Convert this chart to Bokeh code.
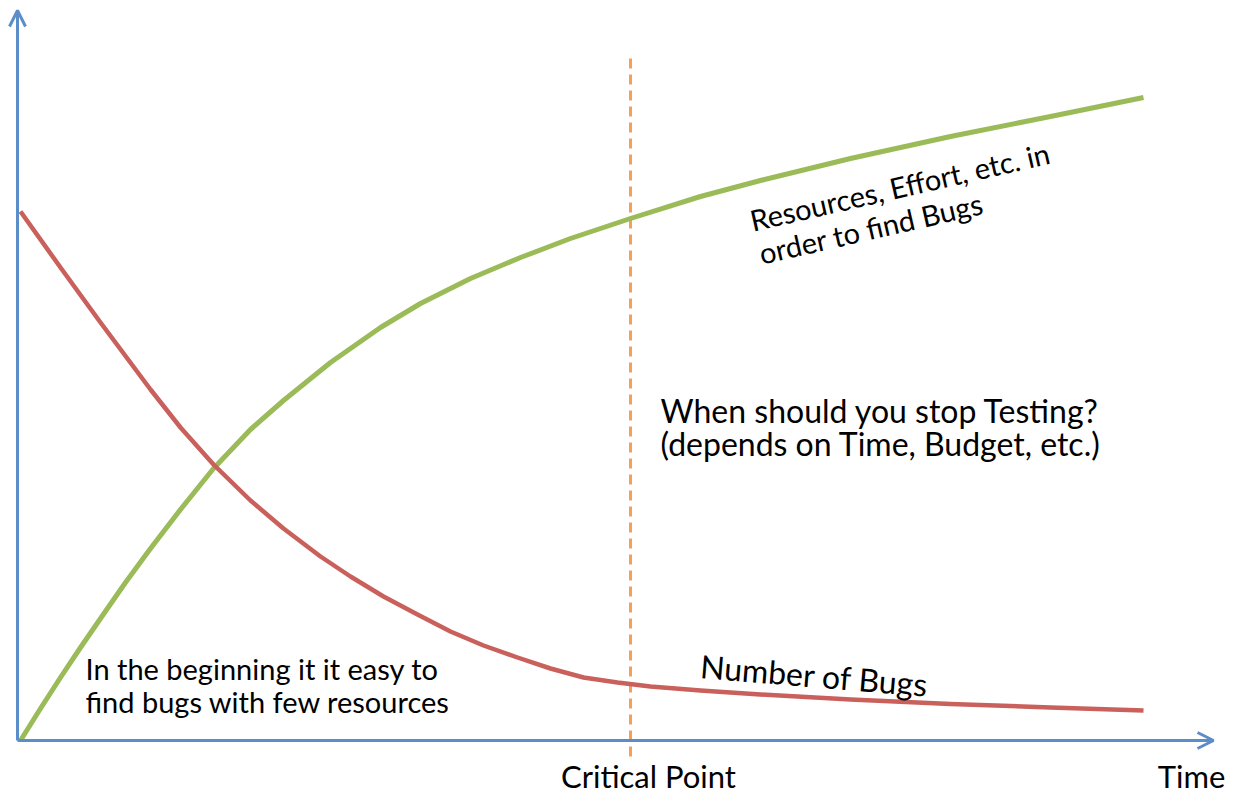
from bokeh.plotting import figure
from bokeh.models import Range1d, Arrow, OpenHead
from bokeh.core.properties import value
from bokeh.embed import file_html
from bokeh.resources import INLINE

# Time axis (arbitrary units) and curve values
time_green = [0, 2, 4, 6, 8, 10.5, 13, 16, 19.3, 23, 26.3, 31, 36, 40, 45, 50, 55, 61,
              68, 74, 83, 93, 103, 112.3]
resources = [0, 3.2, 6.3, 9.3, 12.2, 15.8, 19.2, 23.1, 27.2, 31.1, 34.0, 37.8, 41.3, 43.7,
             46.2, 48.3, 50.2, 52.2, 54.4, 56.0, 58.2, 60.4, 62.4, 64.3]

time_red = [0, 4, 8, 13, 16, 19.3, 23, 26.3, 30, 33, 36.3, 39.7, 43, 46.3, 49.7, 53, 56.3,
            59.7, 63, 68, 74, 83, 93, 103, 112.3]
bugs = [52.9, 47.3, 41.8, 35.1, 31.3, 27.6, 24.0, 21.2, 18.4, 16.4, 14.4, 12.6, 10.9, 9.5,
        8.3, 7.2, 6.3, 5.8, 5.4, 5.0, 4.6, 4.1, 3.65, 3.3, 3.0]

critical_time = 61
labels_axis = ["Critical Point", "Time"]

BLUE = "#5B8DC9"
GREEN = "#9BBB59"
RED = "#C9605B"
ORANGE = "#F5A05A"
FONT = value("Lato")

p = figure(width=1235, height=796, output_backend="svg", toolbar_location=None,
           x_axis_type=None, y_axis_type=None, min_border=0,
           x_range=Range1d(-2.0, 121.5), y_range=Range1d(-5.6, 74.0))
p.grid.visible = False
p.outline_line_color = None
p.background_fill_color = "white"

# axes with arrow heads
p.add_layout(Arrow(end=OpenHead(size=16, line_color=BLUE, line_width=3),
                   x_start=-0.3, y_start=0, x_end=-0.3, y_end=73,
                   line_color=BLUE, line_width=3))
p.add_layout(Arrow(end=OpenHead(size=16, line_color=BLUE, line_width=3),
                   x_start=-0.3, y_start=0, x_end=119.3, y_end=0,
                   line_color=BLUE, line_width=3))

# critical point dashed line
p.segment(x0=[critical_time], y0=[-1.6], x1=[critical_time], y1=[68.5],
          line_color=ORANGE, line_width=3, line_dash="10 6")

p.line(time_green, resources, line_color=GREEN, line_width=5, line_join="round")
p.line(time_red, bugs, line_color=RED, line_width=4.5, line_join="round")

# labels
p.text(x=[62.8, 117.1], y=[-3.5, -3.5], text=labels_axis, text_font=FONT,
       text_font_size="31px", text_align="center", text_baseline="middle", text_color="black")

p.text(x=[64, 64], y=[33.0, 29.7],
       text=["When should you stop Testing?", "(depends on Time, Budget, etc.)"],
       text_font=FONT, text_font_size="32px", text_align="left", text_baseline="middle",
       text_color="black")

p.text(x=[6.5, 6.5], y=[7.2, 3.9],
       text=["In the beginning it it easy to", "find bugs with few resources"],
       text_font=FONT, text_font_size="29px", text_align="left", text_baseline="middle",
       text_color="black")

p.text(x=[68.0], y=[7.5], text=["Number of Bugs"], angle=-0.082,
       text_font=FONT, text_font_size="32px", text_align="left", text_baseline="middle",
       text_color="black")

p.text(x=[73.0, 73.9], y=[52.0, 48.7],
       text=["Resources, Effort, etc. in", "order to find Bugs"], angle=0.225,
       text_font=FONT, text_font_size="29px", text_align="left", text_baseline="middle",
       text_color="black")

open("out.html", "w").write(file_html(p, INLINE))
